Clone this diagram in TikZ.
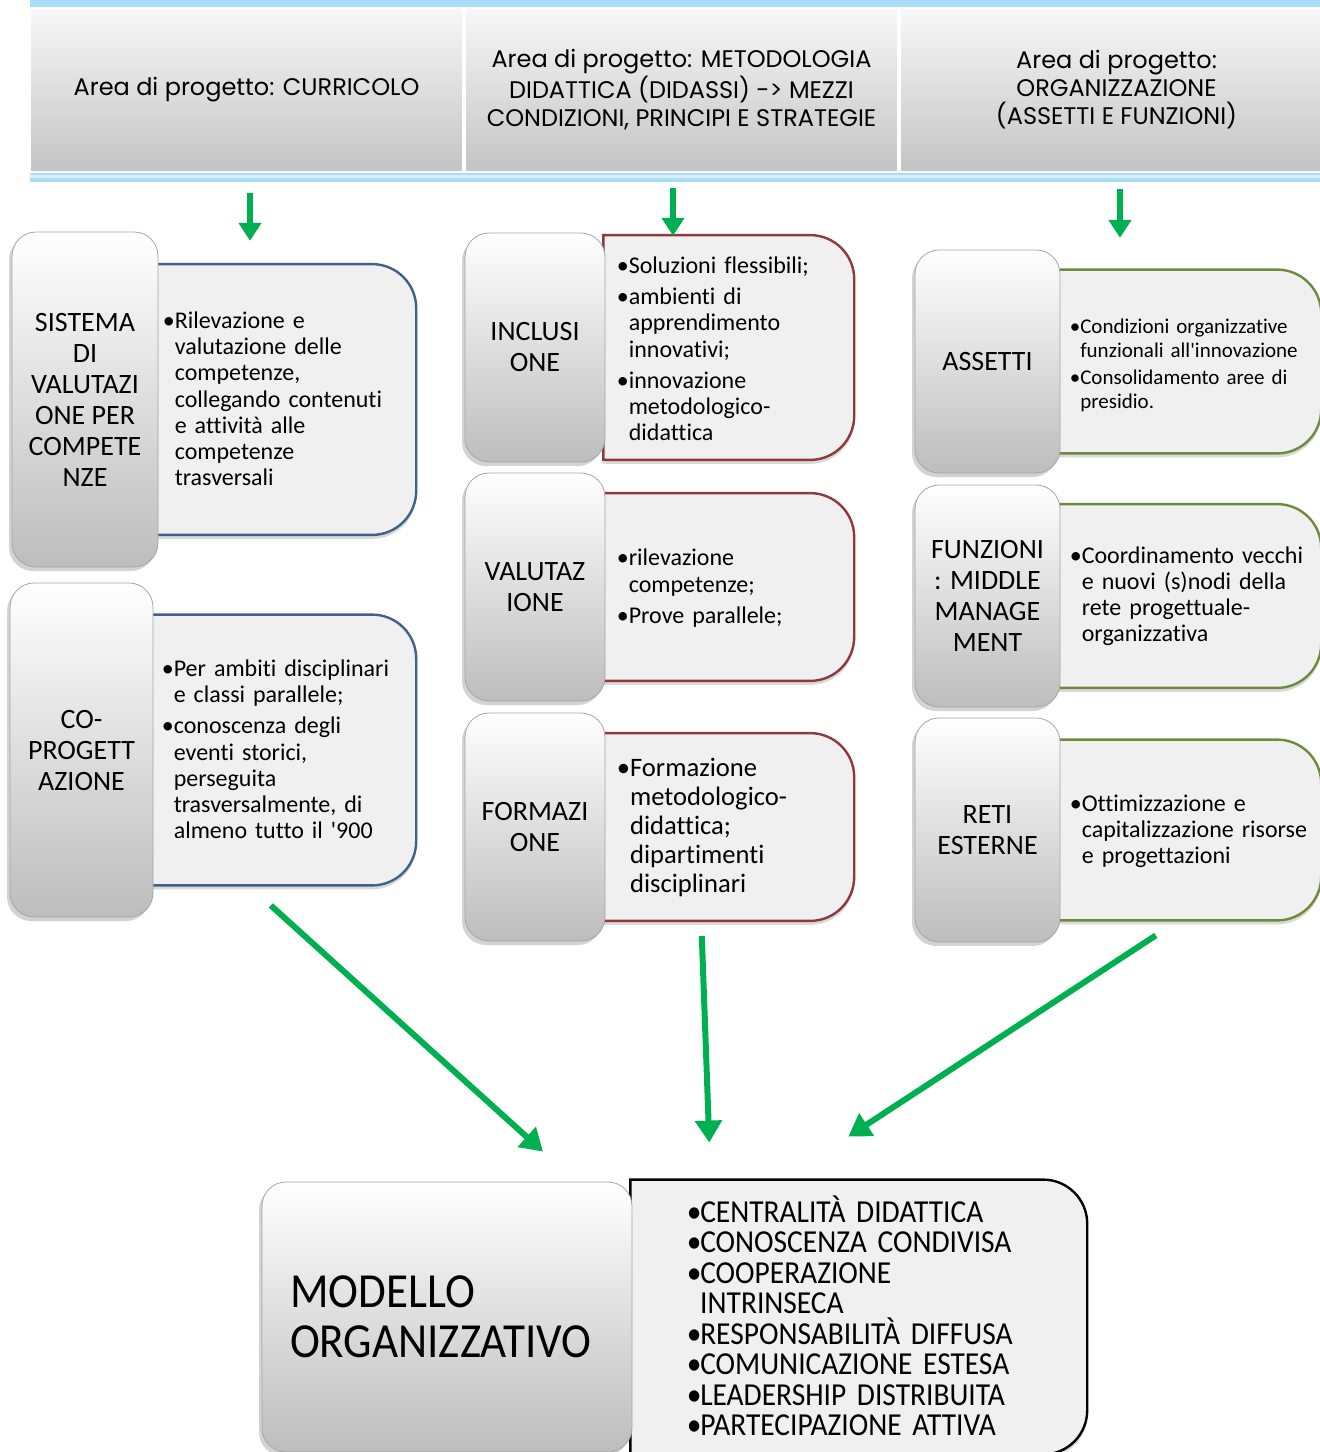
\documentclass[tikz,border=0pt]{standalone}
\usepackage{fontspec}
\setmainfont{Carlito}[Ligatures={NoCommon}]
\newfontfamily\hdfont{Poppins}
\newfontfamily\narrowfont{Carlito}[FakeStretch=0.92, Ligatures={NoCommon}]
\usetikzlibrary{positioning,shadows,backgrounds,arrows.meta}

\definecolor{bandblue}{HTML}{A9DDF8}
\definecolor{tabgrey}{HTML}{BDBDBD}
\definecolor{tabline}{HTML}{A6A6A6}
\definecolor{cfill}{HTML}{F0F0F0}
\definecolor{frblue}{HTML}{41608A}
\definecolor{frred}{HTML}{8E3A3A}
\definecolor{frgreen}{HTML}{6E8B3D}
\definecolor{arrgreen}{HTML}{00B050}

\newcommand{\itm}[1][0.5em]{\par\hangindent=#1\hangafter=1\noindent\hbox to #1{•\hfil}}
\newcommand{\nl}{\hfil\break}
\newcommand{\eit}[1][7pt]{\par\vskip #1\hrule height 0pt width 0pt\relax}
\newcommand{\apo}{\textquotesingle}

\begin{document}
\begin{tikzpicture}[x=0.5pt, y=-0.5pt,
        header/.style={minimum width=216.5pt, minimum height=82pt, top color=white!97!black, bottom color=tabgrey!90, draw=white, line width=0.8pt, align=center, font=\hdfont\fontsize{12}{14}\selectfont},
        tab/.style={draw=tabline, rounded corners=12pt, top color=white, bottom color=tabgrey, drop shadow={shadow xshift=-1.5pt, shadow yshift=-2pt, opacity=0.35}, align=center, inner sep=2pt, font=\fontsize{14}{15.5}\selectfont},
        cont/.style={align=left, inner xsep=4pt, inner ysep=0pt, font=\fontsize{12}{13.1}\selectfont\setlength{\parskip}{2.5pt}},
        frame/.style={fill=cfill, line width=1.2pt, drop shadow={shadow xshift=0pt, shadow yshift=-2pt, opacity=0.3}},
        garrow/.style={draw=arrgreen, line width=3pt, -{Triangle[width=11pt,length=9pt]}}
    ]
    \path[use as bounding box] (0,0) rectangle (1320,1452);

    % Header band
    \fill[bandblue] (30,0) rectangle (1320,182);
    \fill[white!55!bandblue] (30,175) rectangle (1320,178);
    \node[header] (hdA) at (246.5,90) {Area di progetto: CURRICOLO};
    \node[header] (hdB) at (681.5,90) {Area di progetto: METODOLOGIA\\DIDATTICA (DIDASSI) -> MEZZI\\CONDIZIONI, PRINCIPI E STRATEGIE};
    \node[header] (hdC) at (1116.5,90) {Area di progetto:\\ORGANIZZAZIONE\\(ASSETTI E FUNZIONI)};

    % Curricolo
    \node[tab, minimum width=73pt, minimum height=167.5pt] (tSis) at (85,399.5) {SISTEMA\\DI\\VALUTAZI\\ONE PER\\COMPETE\\NZE};
    \node[cont, text width=124.5pt, inner xsep=2pt, minimum height=135pt, right=0pt of tSis] (cSis) {\itm Rilevazione e\nl valutazione delle\nl competenze,\nl collegando contenuti\nl e attività alle\nl competenze\nl trasversali\eit[8pt]};
    \node[tab, minimum width=71.5pt, minimum height=167pt] (tCop) at (81.5,750) {CO-\\PROGETT\\AZIONE};
    \node[cont, text width=123pt, minimum height=135pt, right=0pt of tCop] (cCop) {\itm Per ambiti disciplinari\nl e classi parallele;\itm conoscenza degli\nl eventi storici,\nl perseguita\nl trasversalmente, di\nl almeno tutto il \apo900\eit[8pt]};

    % Metodologia didattica
    \node[tab, minimum width=70pt, minimum height=114.5pt] (tInc) at (535,347.5) {INCLUSI\\ONE};
    \node[cont, text width=113pt, inner xsep=5.5pt, minimum height=112pt, right=0pt of tInc] (cInc) {\itm Soluzioni flessibili;\itm ambienti di\nl apprendimento\nl innovativi;\itm innovazione\nl metodologico-\nl didattica\eit[6pt]};
    \node[tab, minimum width=70pt, minimum height=114pt] (tVal) at (535,587) {VALUTAZ\\IONE};
    \node[cont, text width=113pt, inner xsep=5.5pt, minimum height=93.5pt, right=0pt of tVal] (cVal) {\itm rilevazione\nl competenze;\itm Prove parallele;\eit[6pt]};
    \node[tab, minimum width=70pt, minimum height=114pt] (tFor) at (535,827) {FORMAZI\\ONE};
    \node[cont, text width=113pt, inner xsep=5.5pt, minimum height=93.5pt, right=0pt of tFor, font=\fontsize{13.3}{14.5}\selectfont] (cFor) {\itm Formazione\nl metodologico-\nl didattica;\nl dipartimenti\nl disciplinari\eit[5pt]};

    % Organizzazione
    \node[tab, minimum width=72.5pt, minimum height=111.5pt] (tAss) at (987.5,361.5) {ASSETTI};
    \node[cont, text width=121pt, inner xsep=4.5pt, minimum height=91.5pt, right=0pt of tAss, font=\fontsize{10.5}{12}\selectfont\setlength{\parskip}{1.5pt}] (cAss) {\itm Condizioni organizzative\nl funzionali all\apo innovazione\itm Consolidamento aree di\nl presidio.\eit[2pt]};
    \node[tab, minimum width=72.5pt, minimum height=111pt] (tFun) at (987.5,596) {FUNZIONI\\: MIDDLE\\MANAGE\\MENT};
    \node[cont, text width=121pt, inner xsep=4.5pt, minimum height=91.5pt, right=0pt of tFun] (cFun) {\itm Coordinamento vecchi\nl e nuovi (s)nodi della\nl rete progettuale-\nl organizzativa\eit};
    \node[tab, minimum width=72.5pt, minimum height=112pt] (tRet) at (987.5,830) {RETI\\ESTERNE};
    \node[cont, text width=121pt, inner xsep=4.5pt, minimum height=90pt, right=0pt of tRet] (cRet) {\itm Ottimizzazione e\nl capitalizzazione risorse\nl e progettazioni\eit[6pt]};

    % Modello organizzativo
    \node[tab, minimum width=185pt, minimum height=135pt, align=left, text width=157pt, inner xsep=14pt, font=\narrowfont\fontsize{24.5}{25}\selectfont] (tMod) at (447,1317) {MODELLO\\ORGANIZZATIVO};
    \node[cont, text width=173pt, inner xsep=27pt, minimum height=137pt, right=0pt of tMod, font=\narrowfont\fontsize{16}{15.25}\selectfont\setlength{\parskip}{0pt}] (cMod) {\itm[0.42em]CENTRALITÀ DIDATTICA\itm[0.42em]CONOSCENZA CONDIVISA\itm[0.42em]COOPERAZIONE\nl INTRINSECA\itm[0.42em]RESPONSABILITÀ DIFFUSA\itm[0.42em]COMUNICAZIONE ESTESA\itm[0.42em]LEADERSHIP DISTRIBUITA\itm[0.42em]PARTECIPAZIONE ATTIVA\eit[3pt]};

    % Frames behind the lists (straight left side, rounded right corners)
    \begin{scope}[on background layer]
        \foreach \c/\col in {cSis/frblue, cCop/frblue, cInc/frred, cVal/frred, cFor/frred, cAss/frgreen, cFun/frgreen, cRet/frgreen, cMod/black} {
            \draw[frame, draw=\col] ([xshift=-1pt]\c.south west) -- ([xshift=-1pt]\c.north west)
                -- ([xshift=-22pt]\c.north east) arc[start angle=90, end angle=0, radius=22pt]
                -- ([yshift=22pt]\c.south east) arc[start angle=0, end angle=-90, radius=22pt] -- cycle;
        }
    \end{scope}

    % Arrows
    \draw[garrow] ([shift={(3.5,20)}]hdA.south) -- ([shift={(3.5,68)}]hdA.south);
    \draw[garrow] ([shift={(-8.5,15)}]hdB.south) -- ([shift={(-8.5,63)}]hdB.south);
    \draw[garrow] ([shift={(3.5,16)}]hdC.south) -- ([shift={(3.5,65)}]hdC.south);
    \draw[garrow, -{Triangle[width=13pt,length=11pt]}] ([shift={(-14,20)}]cCop.south) -- ([shift={(96,-30)}]tMod.north);
    \draw[garrow, -{Triangle[width=13pt,length=11pt]}] ([shift={(-28,15)}]cFor.south) -- ([shift={(-150.5,-37)}]cMod.north);
    \draw[garrow, -{Triangle[width=13pt,length=11pt]}] ([shift={(-35,15)}]cRet.south) -- ([shift={(-11.5,-43)}]cMod.north);

\end{tikzpicture}
\end{document}
